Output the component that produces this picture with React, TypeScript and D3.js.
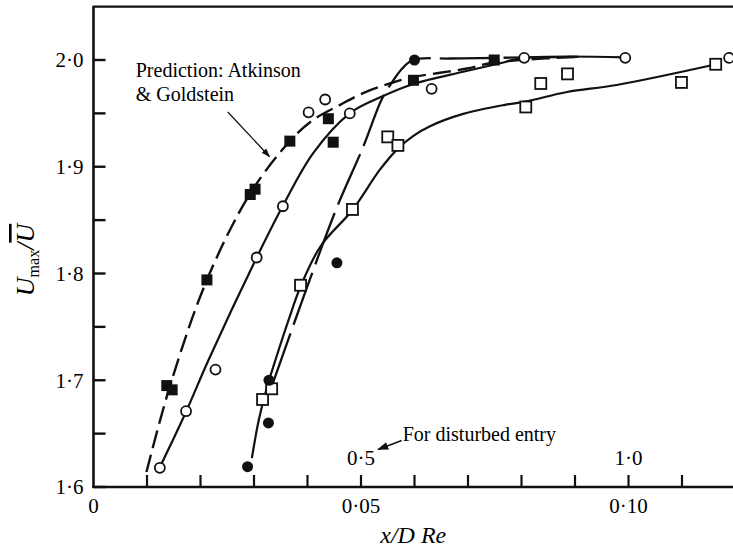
import React from 'react';
import * as d3 from 'd3';

const W = 733;
const H = 552;

// Measured points: undisturbed entry, open circles
const openCircleX = [0.0124, 0.0173, 0.0228, 0.0305, 0.0354, 0.0402, 0.0433, 0.0479, 0.0632, 0.0805, 0.0994, 0.1188];
const openCircleY = [1.618, 1.671, 1.710, 1.815, 1.863, 1.951, 1.963, 1.950, 1.973, 2.002, 2.002, 2.002];

// Filled squares
const filledSquareX = [0.0137, 0.0147, 0.0212, 0.0293, 0.0302, 0.0367, 0.0439, 0.0448, 0.0598, 0.0749];
const filledSquareY = [1.695, 1.691, 1.794, 1.874, 1.879, 1.924, 1.945, 1.923, 1.981, 2.0];

// Filled circles (disturbed entry)
const filledCircleX = [0.0288, 0.0327, 0.0328, 0.0455, 0.06];
const filledCircleY = [1.619, 1.66, 1.70, 1.81, 2.0];

// Open squares
const openSquareX = [0.0316, 0.0333, 0.0387, 0.0484, 0.055, 0.0569, 0.0808, 0.0836, 0.0886, 0.1099, 0.1163];
const openSquareY = [1.682, 1.692, 1.789, 1.86, 1.928, 1.92, 1.956, 1.978, 1.987, 1.979, 1.996];

// Prediction: Atkinson & Goldstein (dashed)
const predictionX = [0.0099, 0.0142, 0.0212, 0.0293, 0.0367, 0.0411, 0.0461, 0.0504, 0.0554, 0.0597, 0.0648, 0.0698, 0.0741, 0.0797, 0.0906];
const predictionY = [1.614, 1.693, 1.794, 1.875, 1.924, 1.944, 1.958, 1.969, 1.978, 1.984, 1.988, 1.992, 1.997, 2.0, 2.003];

// Faired curve through open circles
const circleCurveX = [0.0124, 0.0173, 0.0215, 0.0305, 0.0354, 0.0411, 0.0479, 0.0536, 0.0598, 0.0691, 0.076, 0.0805, 0.0994];
const circleCurveY = [1.6185, 1.6705, 1.719, 1.815, 1.8635, 1.913, 1.95, 1.965, 1.9775, 1.989, 1.997, 2.002, 2.0025];

// Faired curve through open squares
const squareCurveX = [0.0296, 0.0309, 0.0324, 0.0342, 0.0365, 0.0388, 0.0425, 0.0484, 0.0535, 0.0569, 0.0598, 0.0629, 0.0691, 0.0769, 0.0807, 0.0885, 0.0978, 0.1164];
const squareCurveY = [1.627, 1.663, 1.693, 1.722, 1.757, 1.789, 1.826, 1.8595, 1.897, 1.917, 1.929, 1.938, 1.9495, 1.958, 1.961, 1.97, 1.9766, 1.996];

// Prediction for disturbed entry (long dashes)
const disturbedX = [0.0334, 0.0399, 0.0455, 0.0504, 0.0539, 0.0558, 0.0577, 0.0597, 0.0666, 0.0751, 0.0906];
const disturbedY = [1.6955, 1.787, 1.862, 1.9185, 1.9635, 1.979, 1.992, 2.0, 2.0014, 2.002, 2.003];

// Axis ticks
const yMajorTicks = [1.6, 1.7, 1.8, 1.9, 2.0];
const yMinorTicks = [1.65, 1.75, 1.85, 1.95];
const xTicks = [0.01, 0.02, 0.03, 0.04, 0.05, 0.06, 0.07, 0.08, 0.09, 0.1, 0.11];
const xLabelValues = [0, 0.05, 0.1];
const xLabelTexts = ['0', '0·05', '0·10'];
const disturbedScaleValues = [0.05, 0.1];
const disturbedScaleTexts = ['0·5', '1·0'];

const FONT = "'Liberation Serif', 'Times New Roman', Times, serif";

const zip = (xs: number[], ys: number[]) => xs.map((x, i) => [x, ys[i]] as [number, number]);

export default function App() {
  const x = d3.scaleLinear().domain([0, 0.12]).range([93.5, 93.5 + 0.12 * 5350]);
  const y = d3.scaleLinear().domain([1.6, 2.0]).range([487, 60]);
  const x0 = x(0);
  const y0 = y(1.6);
  const yTop = y(2.05);

  const line = d3
    .line<[number, number]>()
    .x((d) => x(d[0]))
    .y((d) => y(d[1]))
    .curve(d3.curveCatmullRom.alpha(0.5));

  const stroke = '#111';
  const sq = 11;
  const txt = { fontFamily: FONT } as React.CSSProperties;

  return (
    <svg
      width={W}
      height={H}
      viewBox={`0 0 ${W} ${H}`}
      style={{ position: 'absolute', left: 0, top: 0, background: '#fff', fontFamily: FONT }}
    >
      <defs>
        <marker id="arrowHead" viewBox="0 0 10 10" refX="9" refY="5" markerWidth="7" markerHeight="7" orient="auto">
          <path d="M0,1.5 L10,5 L0,8.5 z" fill={stroke} />
        </marker>
      </defs>
      <rect x={0} y={0} width={W} height={H} fill="#fff" />

      {/* frame */}
      <line x1={x0} x2={x0} y1={y0 + 1} y2={yTop} stroke={stroke} strokeWidth={2.6} />
      <line x1={x0 - 1} x2={W} y1={y0} y2={y0} stroke={stroke} strokeWidth={2.6} />
      <line x1={x0 - 1} x2={W} y1={yTop} y2={yTop} stroke={stroke} strokeWidth={2.4} />

      {/* y ticks */}
      {yMajorTicks.map((v) => (
        <g key={`ym${v}`}>
          <line x1={x0} x2={x0 + 12} y1={y(v)} y2={y(v)} stroke={stroke} strokeWidth={2.4} />
          <text style={txt} x={x0 - 10} y={y(v)} dy="0.35em" textAnchor="end" fontSize={21}>
            {d3.format('.1f')(v).replace('.', '·')}
          </text>
        </g>
      ))}
      {yMinorTicks.map((v) => (
        <line key={`yn${v}`} x1={x0} x2={x0 + 12} y1={y(v)} y2={y(v)} stroke={stroke} strokeWidth={2.4} />
      ))}

      {/* x ticks */}
      {xTicks.map((v) => (
        <line key={`xt${v}`} x1={x(v)} x2={x(v)} y1={y0} y2={y0 - 12} stroke={stroke} strokeWidth={2.2} />
      ))}
      {xLabelValues.map((v, i) => (
        <text style={txt} key={`xl${v}`} x={x(v)} y={y0 + 26} textAnchor="middle" fontSize={21}>
          {xLabelTexts[i]}
        </text>
      ))}
      {disturbedScaleValues.map((v, i) => (
        <text style={txt} key={`dl${v}`} x={x(v)} y={y0 - 22} textAnchor="middle" fontSize={21}>
          {disturbedScaleTexts[i]}
        </text>
      ))}

      {/* axis titles */}
      <text style={txt} x={(x0 + W) / 2} y={543} textAnchor="middle" fontSize={24} fontStyle="italic">
        x/D Re
      </text>
      <text style={txt} transform={`translate(34, 260) rotate(-90)`} textAnchor="middle" fontSize={26}>
        <tspan fontStyle="italic">U</tspan>
        <tspan fontSize={16} dy={5}>max</tspan>
        <tspan fontStyle="italic" dy={-5}>/</tspan>
        <tspan fontStyle="italic" textDecoration="overline">U</tspan>
      </text>

      {/* curves */}
      <path d={line(zip(circleCurveX, circleCurveY)) || ''} fill="none" stroke={stroke} strokeWidth={2.2} />
      <path d={line(zip(squareCurveX, squareCurveY)) || ''} fill="none" stroke={stroke} strokeWidth={2.2} />
      <path
        d={line(zip(predictionX, predictionY)) || ''}
        fill="none"
        stroke={stroke}
        strokeWidth={2.4}
        strokeDasharray="18,7"
      />
      <path
        d={line(zip(disturbedX, disturbedY)) || ''}
        fill="none"
        stroke={stroke}
        strokeWidth={2.3}
        strokeDasharray="55,9"
      />

      {/* markers */}
      {zip(openCircleX, openCircleY).map(([a, b], i) => (
        <circle key={`oc${i}`} cx={x(a)} cy={y(b)} r={5} fill="#fff" stroke={stroke} strokeWidth={1.8} />
      ))}
      {zip(openSquareX, openSquareY).map(([a, b], i) => (
        <rect
          key={`os${i}`}
          x={x(a) - sq / 2}
          y={y(b) - sq / 2}
          width={sq}
          height={sq}
          fill="#fff"
          stroke={stroke}
          strokeWidth={1.8}
        />
      ))}
      {zip(filledSquareX, filledSquareY).map(([a, b], i) => (
        <rect key={`fs${i}`} x={x(a) - sq / 2} y={y(b) - sq / 2} width={sq} height={sq} fill={stroke} />
      ))}
      {zip(filledCircleX, filledCircleY).map(([a, b], i) => (
        <circle key={`fc${i}`} cx={x(a)} cy={y(b)} r={5.5} fill={stroke} />
      ))}

      {/* annotations */}
      <text style={txt} x={x(0.0079)} y={y(1.9841)} fontSize={20}>
        Prediction: Atkinson
      </text>
      <text style={txt} x={x(0.0079)} y={y(1.9616)} fontSize={20}>
        &amp; Goldstein
      </text>
      <line
        x1={x(0.0251)}
        y1={y(1.9513)}
        x2={x(0.0329)}
        y2={y(1.9095)}
        stroke={stroke}
        strokeWidth={1.3}
        markerEnd="url(#arrowHead)"
      />
      <text style={txt} x={x(0.0578)} y={y(1.6431)} fontSize={20}>
        For disturbed entry
      </text>
      <line
        x1={x(0.0576)}
        y1={y(1.6435)}
        x2={x(0.0532)}
        y2={y(1.6352)}
        stroke={stroke}
        strokeWidth={1.6}
        markerEnd="url(#arrowHead)"
      />
    </svg>
  );
}
